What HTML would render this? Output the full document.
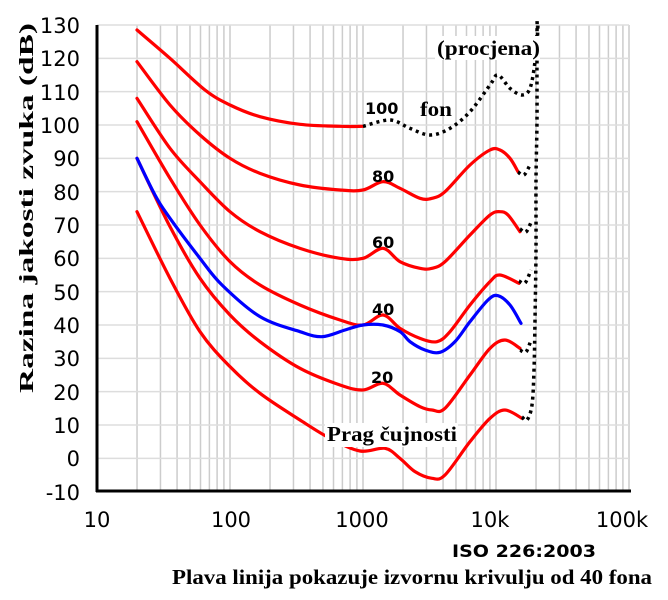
<!DOCTYPE html>
<html><head><meta charset="utf-8"><style>
body{margin:0;background:#fff}
svg{display:block}
</style></head><body>
<svg id="s" width="668" height="600" viewBox="0 0 668 600" xmlns="http://www.w3.org/2000/svg">
<g id="grid"></g>
<g id="curves" fill="none" stroke-linecap="round" stroke-linejoin="round"></g>
<line x1="97" y1="25" x2="97" y2="492" stroke="#000" stroke-width="3"/>
<line x1="96" y1="491" x2="631" y2="491" stroke="#000" stroke-width="3"/>
<g font-family="DejaVu Sans, sans-serif" font-size="21" fill="#000" text-anchor="end">
<text x="80" y="33">130</text><text x="80" y="66">120</text><text x="80" y="100">110</text>
<text x="80" y="133">100</text><text x="80" y="166">90</text><text x="80" y="200">80</text>
<text x="80" y="233">70</text><text x="80" y="266">60</text><text x="80" y="300">50</text>
<text x="80" y="333">40</text><text x="80" y="366">30</text><text x="80" y="400">20</text>
<text x="80" y="433">10</text><text x="80" y="466">0</text><text x="80" y="500">-10</text>
</g>
<g font-family="DejaVu Sans, sans-serif" font-size="21" fill="#000" text-anchor="middle">
<text x="97" y="527">10</text><text x="231" y="527">100</text><text x="362" y="527">1000</text>
<text x="490" y="527">10k</text><text x="622" y="527">100k</text>
</g>
<text transform="translate(33,393) rotate(-90)" font-family="Liberation Serif, serif" font-weight="bold" font-size="20" textLength="370" lengthAdjust="spacingAndGlyphs">Razina jakosti zvuka (dB)</text>
<text x="452" y="557" font-family="DejaVu Sans, sans-serif" font-weight="bold" font-size="17" textLength="144" lengthAdjust="spacingAndGlyphs">ISO 226:2003</text>
<text x="172" y="584" font-family="Liberation Serif, serif" font-weight="bold" font-size="21" textLength="480" lengthAdjust="spacingAndGlyphs">Plava linija pokazuje izvornu krivulju od 40 fona</text>
<g font-family="DejaVu Sans, sans-serif" font-weight="bold" font-size="16" fill="#000">
<text x="365" y="114">100</text><text x="372" y="182">80</text><text x="372" y="248">60</text>
<text x="372" y="315">40</text><text x="371" y="383">20</text>
</g>
<rect x="435" y="36" width="105" height="24" fill="#fff"/>
<text x="437" y="55" font-family="Liberation Serif, serif" font-weight="bold" font-size="21" textLength="103" lengthAdjust="spacingAndGlyphs">(procjena)</text>
<text x="420" y="116" font-family="Liberation Serif, serif" font-weight="bold" font-size="21" textLength="32" lengthAdjust="spacingAndGlyphs">fon</text>
<rect x="325" y="423" width="133" height="24" fill="#fff"/>
<text x="327" y="441" font-family="Liberation Serif, serif" font-weight="bold" font-size="21" textLength="130" lengthAdjust="spacingAndGlyphs">Prag čujnosti</text>
</svg>
<script>
var NS="http://www.w3.org/2000/svg";
function Y(v){return 25+(130-v)*10/3;}
function X(f){return 97+133*(Math.log10(f)-1);}
var g=document.getElementById('grid'),h='';
for(var d=10;d<100000;d*=10){for(var k=1;k<10;k++){var x=X(d*k);h+='<line x1="'+x+'" y1="25" x2="'+x+'" y2="491" stroke="#ccc" stroke-width="1.5"/>';}}
h+='<line x1="629" y1="25" x2="629" y2="491" stroke="#ccc" stroke-width="1.5"/>';
for(var v=-10;v<=130;v+=10){h+='<line x1="97" y1="'+Y(v)+'" x2="629" y2="'+Y(v)+'" stroke="#ddd" stroke-width="1.5"/>';}
g.innerHTML=h;
function path(p,px){var pts=p.map(function(a){return px?[a[0],a[1]]:[a[0],Y(a[1])];});
var s='M'+pts[0][0]+' '+pts[0][1];
for(var i=0;i<pts.length-1;i++){var p0=pts[Math.max(0,i-1)],p1=pts[i],p2=pts[i+1],p3=pts[Math.min(pts.length-1,i+2)];
s+=' C'+(p1[0]+(p2[0]-p0[0])/6)+' '+(p1[1]+(p2[1]-p0[1])/6)+' '+(p2[0]-(p3[0]-p1[0])/6)+' '+(p2[1]-(p3[1]-p1[1])/6)+' '+p2[0]+' '+p2[1];}
return s;}
var C=document.getElementById('curves'),o='';
function add(p,st,px){o+='<path d="'+path(p,px)+'" '+st+'/>';}
var R='stroke="#f00" stroke-width="3.2"',D='stroke="#000" stroke-width="3.5" stroke-linecap="butt" stroke-dasharray="3 4"';
add([[137,74],[170,54],[200,38],[230,27.5],[260,19.5],[300,11.5],[330,6],[360,2.2],[385,3],[400,0],[415,-4],[432,-6],[445,-5],[470,5],[490,12],[505,14.5],[522,12]],R);
add([[137,90],[170,69.5],[200,54],[230,43],[260,35],[300,27],[340,22],[363,20.5],[383,22.5],[400,19],[420,15.5],[432,14.5],[445,15],[470,25],[490,33],[505,35.5],[520,33]],R);
add([[137,101],[170,84],[200,70],[230,59],[260,52],[300,46],[340,41.5],[363,40],[383,43],[400,39],[420,36],[437,35],[450,38],[470,46],[490,53],[500,55],[519,52.5]],R);
add([[137,108],[170,93],[200,83],[230,74],[260,68],[300,63],[340,60],[363,60],[383,63],[400,59],[420,57],[432,57],[445,59],[470,67],[490,73],[500,74],[508,73],[520,68]],R);
add([[137,119],[170,106],[200,97],[230,90],[260,85.5],[300,82],[340,80.5],[363,80.5],[383,83],[400,81],[420,78],[432,78],[445,80],[470,88],[490,92.5],[500,92.5],[510,90],[518,86]],R);
add([[137,128.5],[170,120],[205,110.5],[230,106],[260,102.5],[300,100.2],[340,99.6],[363,99.6]],R);
add([[137,90],[155,79],[170,72],[200,60],[222,52],[260,42.5],[300,38],[322,36.5],[345,38.5],[363,40],[383,40],[400,38],[410,35],[425,32.5],[440,31.8],[455,35],[470,41],[488,47.5],[498,48.8],[510,46],[521,40.5]],'stroke="#00f" stroke-width="3.2"');
add([[363,99.6],[390,101.5],[410,99],[430,97],[450,99],[470,104],[490,112],[498,115],[510,111],[522,109],[530,111],[535,119],[537,128],[537,132]],D);
add([[522,417],[527,420],[532,405],[534,370],[535,320],[536,250],[536,180],[537,120],[537,60],[538,22]],D,true);
add([[520,350],[526,352],[531,340]],D,true);
add([[519,281],[525,283],[531,270]],D,true);
add([[520,229],[526,232],[532,220]],D,true);
add([[518,172],[524,175],[530,165]],D,true);
C.innerHTML=o;
</script>
</body></html>
